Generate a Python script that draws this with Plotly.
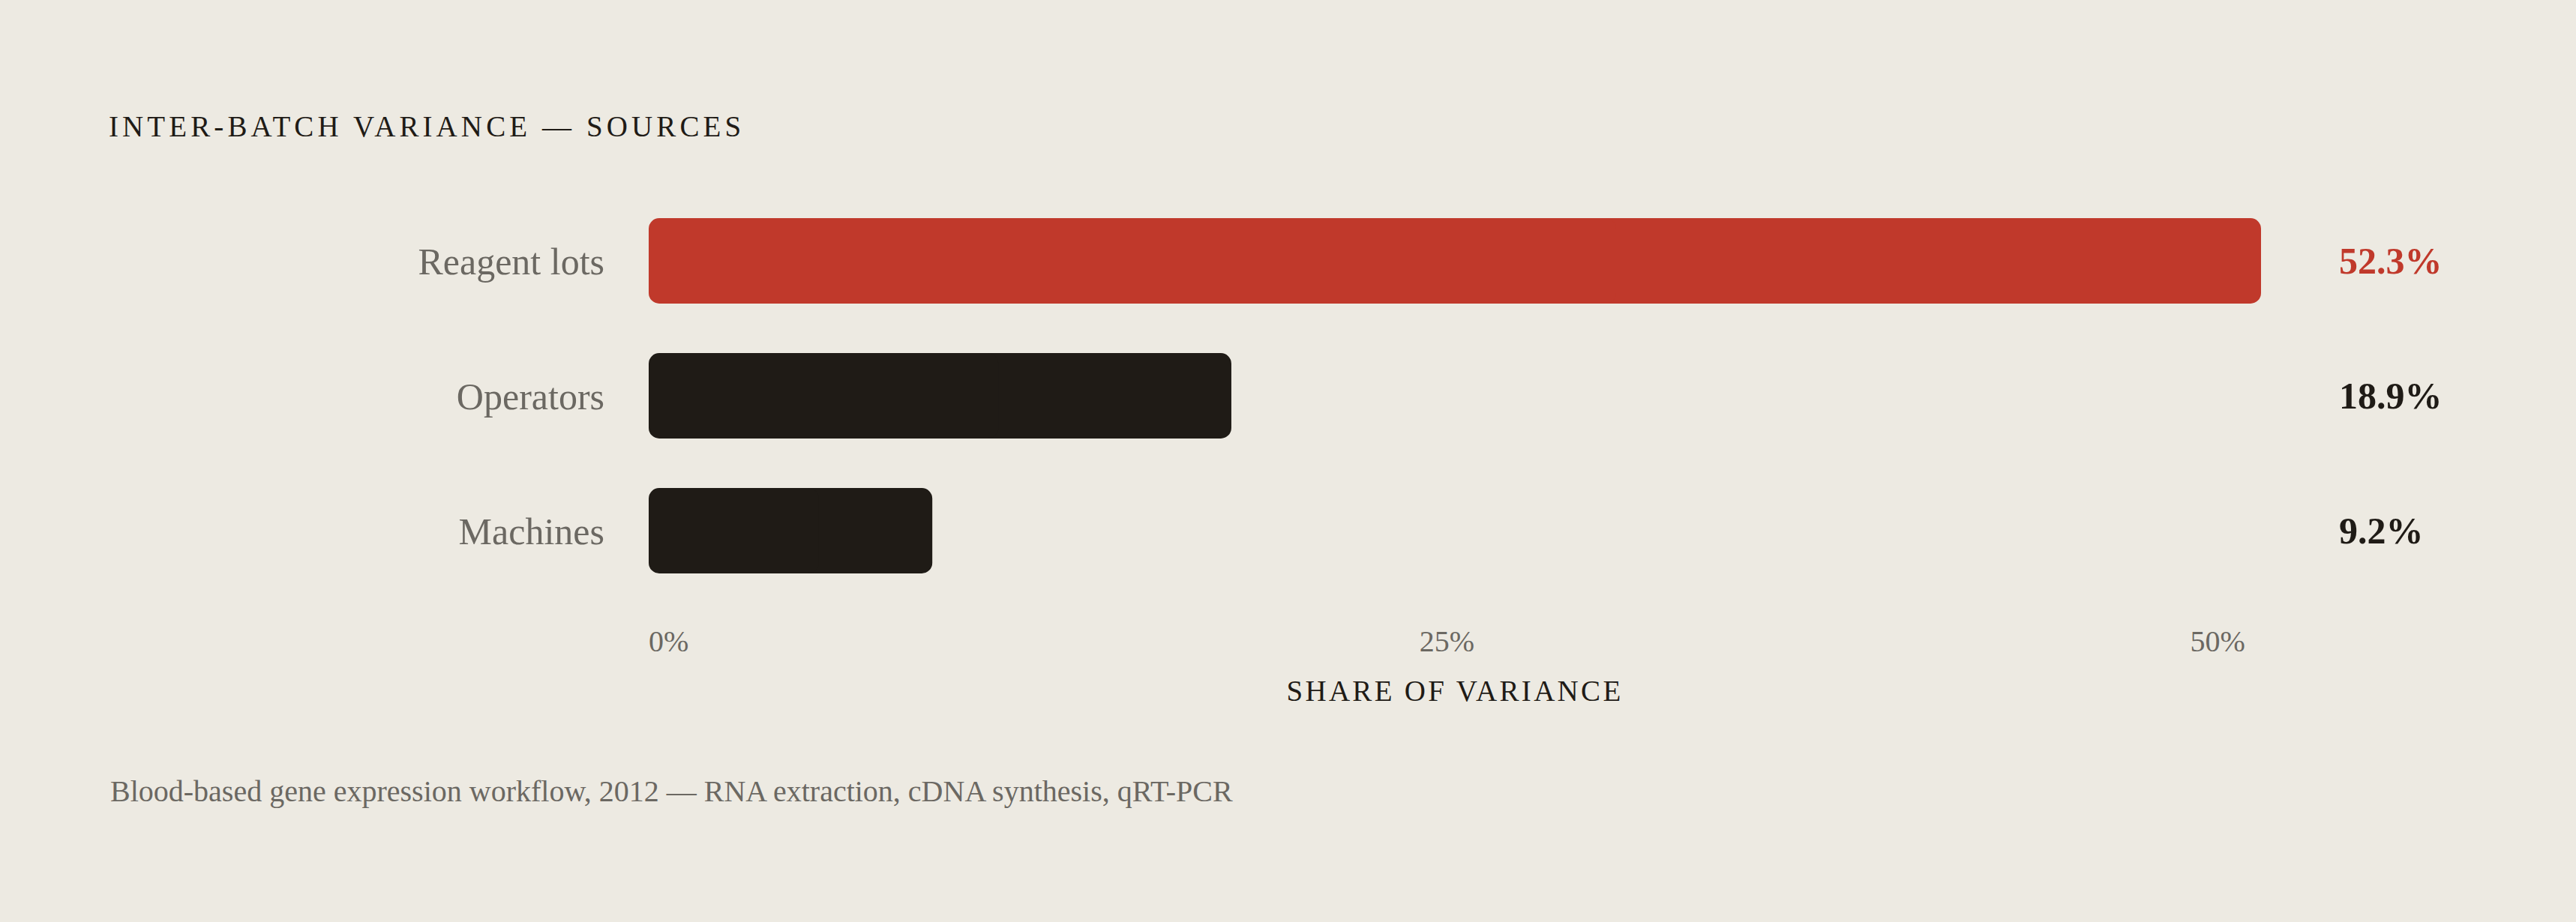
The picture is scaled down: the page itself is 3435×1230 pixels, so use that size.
import plotly.graph_objects as go

# data
sources = ["Reagent lots", "Operators", "Machines"]
share = [52.3, 18.9, 9.2]
tick_vals = [0, 25, 50]
tick_text = ["0%", "25%", "50%"]

BG = "#EDEAE2"
RED = "#C0392B"
INK = "#1F1B16"
GREY = "#6B6862"
FONT = "Liberation Serif"

colors = [RED if v == max(share) else INK for v in share]

fig = go.Figure()
# each bar is drawn as two overlapping halves so both ends get rounded corners
fig.add_trace(go.Bar(
    x=[v * 0.5 for v in share], base=[v * 0.5 for v in share], y=sources,
    orientation="h",
    marker=dict(color=colors, cornerradius=14, line=dict(width=0)),
    hoverinfo="skip",
))
fig.add_trace(go.Bar(
    x=[-v * 0.6 for v in share], base=[v * 0.6 for v in share], y=sources,
    orientation="h",
    marker=dict(color=colors, cornerradius=14, line=dict(width=0)),
    hoverinfo="skip",
))

# value column on the right
for s, v, c in zip(sources, share, colors):
    fig.add_annotation(
        x=1, xref="paper", y=s, yref="y",
        text=f"<b>{v:.1f}%</b>", showarrow=False,
        xanchor="left", yanchor="middle", xshift=102,
        font=dict(family=FONT, size=50, color=c),
    )

# footnote
fig.add_annotation(
    x=(145 - 865) / 2150, xref="paper", y=-0.476, yref="paper",
    text="Blood-based gene expression workflow, 2012 — RNA extraction, cDNA synthesis, qRT-PCR",
    showarrow=False, xanchor="left", yanchor="middle",
    font=dict(family=FONT, size=40, color=GREY),
)

fig.update_layout(
    width=3435, height=1230,
    paper_bgcolor=BG, plot_bgcolor=BG,
    margin=dict(l=865, r=420, t=258, b=432),
    barmode="overlay",
    bargap=0.367,
    showlegend=False,
    title=dict(
        text="<span style='letter-spacing:5.1px'>INTER-BATCH VARIANCE — SOURCES</span>",
        x=145 / 3435, xref="container", xanchor="left",
        y=1 - 168 / 1230, yref="container", yanchor="middle",
        font=dict(family=FONT, size=39, color=INK),
    ),
    xaxis=dict(
        range=[0, max(share)],
        tickvals=tick_vals, ticktext=tick_text,
        ticklabelposition="outside right",
        ticks="", ticklabelstandoff=30,
        showgrid=False, zeroline=False, showline=False,
        tickfont=dict(family=FONT, size=40, color=GREY),
        title=dict(text="<span style='letter-spacing:3.3px'>SHARE OF VARIANCE</span>",
                   standoff=30,
                   font=dict(family=FONT, size=39, color=INK)),
    ),
    yaxis=dict(
        type="category", range=[2.5, -0.5],
        ticks="", ticklabelstandoff=58,
        showgrid=False, zeroline=False, showline=False,
        tickfont=dict(family=FONT, size=50, color=GREY),
    ),
)

fig.write_html("out.html", config={"displayModeBar": False},
               post_script="document.body.style.margin='0';")
